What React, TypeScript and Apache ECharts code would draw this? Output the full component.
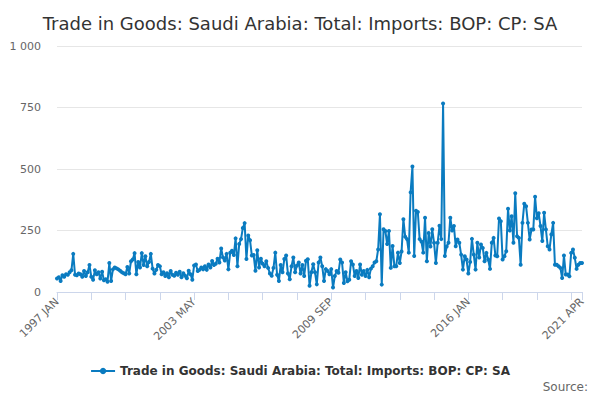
import { useEffect, useRef } from "react";
import * as echarts from "echarts";

const TITLE = "Trade in Goods: Saudi Arabia: Total: Imports: BOP: CP: SA";
const MONTHS = ["JAN", "FEB", "MAR", "APR", "MAY", "JUN", "JUL", "AUG", "SEP", "OCT", "NOV", "DEC"];

// monthly categories, 1997 JAN .. 2021 APR
const categories: string[] = [];
for (let y = 1997; y <= 2021; y++) {
  for (let m = 0; m < 12; m++) {
    if (y === 2021 && m > 3) break;
    categories.push(`${y} ${MONTHS[m]}`);
  }
}

// values, by stretch of years
const values1997_2002 = [
  55, 60, 45, 68, 62, 72, 70, 80, 88, 155, 70, 68,
  75, 72, 62, 85, 65, 80, 110, 62, 50, 88, 72, 80,
  55, 82, 48, 52, 42, 118, 45, 92, 100, 96, 92, 86,
  80, 76, 72, 102, 75, 125, 132, 158, 72, 122, 100, 158,
  110, 145, 105, 122, 155, 95, 75, 90, 110, 105, 72, 80,
  65, 76, 60, 85, 70, 66, 78, 70, 82, 60, 76, 66,
];
const values2003_2008 = [
  56, 86, 72, 50, 108, 112, 85, 90, 100, 92, 105, 90,
  112, 100, 126, 110, 115, 135, 120, 177, 140, 128, 155, 92,
  160, 168, 150, 218, 105, 195, 215, 260, 280, 134, 230, 210,
  148, 150, 86, 170, 100, 135, 115, 105, 125, 98, 75, 66,
  98, 160, 70, 45, 110, 80, 134, 148, 75, 52, 105, 140,
  80, 108, 120, 75, 110, 65, 127, 133, 25, 80, 113, 80,
];
const values2009_2014 = [
  31, 120, 140, 105, 45, 93, 85, 72, 93, 18, 65, 85,
  78, 132, 120, 37, 80, 44, 50, 125, 112, 65, 85, 57,
  112, 70, 85, 65, 90, 60, 95, 105, 120, 125, 173, 316,
  30, 255, 248, 195, 248, 98, 187, 105, 105, 160, 118, 165,
  296, 225, 215, 160, 405, 510, 146, 330, 325, 215, 205, 160,
  302, 125, 240, 185, 255, 200, 118, 200, 269, 215, 766, 146,
];
const values2015_2021 = [
  185, 200, 302, 250, 268, 186, 213, 200, 152, 91, 145, 132,
  75, 122, 216, 152, 91, 200, 140, 193, 179, 125, 159, 132,
  94, 200, 220, 148, 145, 299, 288, 132, 145, 166, 338, 250,
  308, 200, 401, 227, 220, 111, 281, 359, 349, 281, 213, 254,
  254, 387, 300, 320, 268, 207, 322, 254, 186, 173, 234, 281,
  111, 111, 105, 98, 57, 148, 71, 71, 64, 159, 173, 139,
  94, 111, 118, 118,
];
const values = [...values1997_2002, ...values2003_2008, ...values2009_2014, ...values2015_2021];

const LINE = "#0a7bc0";
const FONT = "DejaVu Sans";

export default function App() {
  const ref = useRef<HTMLDivElement>(null);

  useEffect(() => {
    if (!ref.current) return;
    const chart = echarts.init(ref.current, undefined, { renderer: "svg" });
    const last = categories.length - 1;

    chart.setOption({
      animation: false,
      textStyle: { fontFamily: FONT },
      title: {
        text: TITLE,
        left: "center",
        top: 9,
        textStyle: { fontSize: 18, fontWeight: "normal", color: "#333333", fontFamily: FONT },
      },
      grid: { left: 57, right: 18, top: 46, bottom: 108 },
      legend: {
        bottom: 18,
        left: "center",
        itemWidth: 24,
        itemHeight: 8,
        data: [TITLE],
        textStyle: { fontSize: 12, fontWeight: "bold", color: "#333333", fontFamily: FONT },
      },
      graphic: [
        {
          type: "text",
          right: 12,
          top: 381,
          style: { text: "Source:", fontSize: 12, fill: "#666666", fontFamily: FONT },
        },
      ],
      xAxis: {
        type: "category",
        data: categories,
        boundaryGap: false,
        axisLine: { lineStyle: { color: "#ccd6eb" } },
        axisTick: {
          length: 8,
          lineStyle: { color: "#ccd6eb" },
          interval: (i: number) => i % 19 === 0 || i === last,
        },
        axisLabel: {
          rotate: 45,
          color: "#666666",
          fontSize: 11,
          fontFamily: FONT,
          interval: (i: number) => i % 76 === 0 || i === last,
          showMaxLabel: true,
        },
        splitLine: { show: false },
      },
      yAxis: {
        type: "value",
        min: 0,
        max: 1000,
        interval: 250,
        axisLine: { show: false },
        axisTick: { show: false },
        axisLabel: {
          color: "#666666",
          fontSize: 11,
          fontFamily: FONT,
          margin: 16,
          formatter: (v: number) => (v >= 1000 ? v.toLocaleString("en-US").replace(",", " ") : String(v)),
        },
        splitLine: { lineStyle: { color: "#e6e6e6" } },
      },
      series: [
        {
          name: TITLE,
          type: "line",
          data: values,
          symbol: "circle",
          symbolSize: 4,
          showAllSymbol: true,
          lineStyle: { color: LINE, width: 2 },
          itemStyle: { color: LINE },
        },
      ],
    });

    return () => chart.dispose();
  }, []);

  return <div ref={ref} style={{ width: 600, height: 400, margin: -8 }} />;
}
